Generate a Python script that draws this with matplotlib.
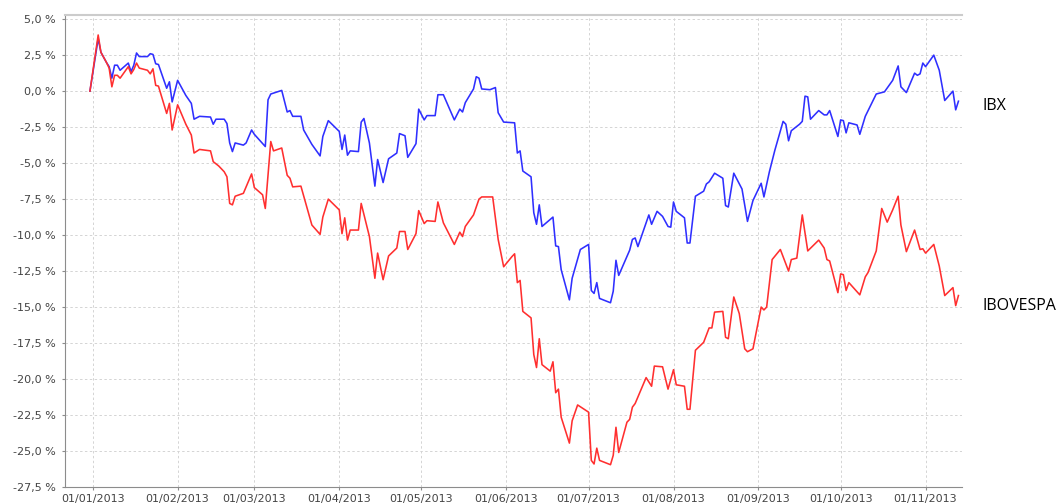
import matplotlib
matplotlib.use("Agg")
import matplotlib.pyplot as plt
import matplotlib.dates as mdates
import matplotlib.transforms as mtransforms
from matplotlib.ticker import FuncFormatter, MultipleLocator
import pandas as pd

# dias desde 01/01/2013 e variacao acumulada (%)
ibx_days = [-1, 2, 3, 5, 6, 7, 8, 9, 10, 13, 14, 15, 16, 17, 20, 21, 22, 23, 24, 27, 28, 29, 31,
            34, 36, 37, 39, 43, 44, 45, 48, 49, 50, 51, 52, 55, 56, 58, 59, 63, 64, 65, 69, 71,
            72, 73, 76, 77, 80, 83, 84, 86, 90, 91, 92, 93, 94, 97, 98, 99, 101, 103, 104, 106,
            108, 111, 112, 114, 115, 118, 119, 121, 122, 125, 126, 128, 132, 134, 135, 136, 139,
            140, 141, 142, 145, 147, 148, 150, 154, 155, 156, 157, 160, 161, 162, 163, 164, 168,
            169, 170, 171, 174, 175, 178, 181, 182, 183, 184, 185, 189, 190, 191, 192, 196, 197,
            198, 199, 203, 204, 206, 208, 210, 211, 212, 213, 216, 217, 218, 220, 223, 224, 225,
            227, 230, 231, 232, 234, 237, 239, 241, 244, 245, 247, 249, 252, 253, 254, 255, 258,
            259, 260, 261, 262, 265, 267, 268, 269, 272, 273, 274, 275, 276, 279, 280, 282, 286,
            289, 292, 294, 295, 297, 300, 301, 302, 303, 304, 307, 309, 311, 314, 315, 316]
ibx_vals = [0.0, 3.65, 2.7, 2.0, 1.7, 0.9, 1.8, 1.8, 1.45, 1.95, 1.35, 1.8, 2.65, 2.4, 2.4, 2.6,
            2.55, 1.9, 1.85, 0.2, 0.65, -0.75, 0.75, -0.3, -0.85, -1.95, -1.75, -1.8, -2.3, -1.95,
            -1.95, -2.25, -3.6, -4.2, -3.6, -3.75, -3.6, -2.7, -3.0, -3.85, -0.6, -0.2, 0.05,
            -1.45, -1.35, -1.75, -1.75, -2.7, -3.7, -4.5, -3.15, -2.05, -2.8, -4.05, -3.05, -4.45,
            -4.15, -4.2, -2.15, -1.9, -3.6, -6.6, -4.75, -6.35, -4.7, -4.3, -2.95, -3.1, -4.6,
            -3.65, -1.25, -2.0, -1.7, -1.7, -0.25, -0.25, -2.0, -1.25, -1.45, -0.8, 0.15, 1.0,
            0.9, 0.15, 0.1, 0.25, -1.5, -2.15, -2.2, -4.3, -4.15, -5.55, -5.95, -8.45, -9.25,
            -7.9, -9.4, -8.75, -10.75, -10.8, -12.4, -14.5, -13.0, -11.0, -10.65, -13.85, -14.05,
            -13.3, -14.4, -14.7, -13.9, -11.75, -12.8, -11.05, -10.3, -10.2, -10.8, -8.6, -9.25,
            -8.35, -8.7, -9.4, -9.45, -7.7, -8.35, -8.8, -10.55, -10.55, -7.3, -6.95, -6.45,
            -6.3, -5.7, -6.05, -7.95, -8.05, -5.7, -6.8, -9.05, -7.6, -6.4, -7.35, -5.6, -4.1,
            -2.1, -2.3, -3.45, -2.75, -2.3, -2.1, -0.35, -0.4, -1.95, -1.35, -1.65, -1.65, -1.35,
            -3.15, -2.0, -2.05, -2.9, -2.2, -2.35, -3.0, -1.75, -0.2, -0.05, 0.75, 1.75, 0.3,
            -0.1, 1.25, 1.1, 1.2, 1.95, 1.7, 2.5, 1.45, -0.65, 0.0, -1.3, -0.7]

ibov_days = [-1, 2, 3, 5, 6, 7, 8, 9, 10, 13, 14, 15, 16, 17, 20, 21, 22, 23, 24, 27, 28, 29, 31,
             34, 36, 37, 39, 43, 44, 46, 48, 49, 50, 51, 52, 55, 58, 59, 62, 63, 65, 66, 69, 71,
             72, 73, 76, 80, 83, 84, 86, 90, 91, 92, 93, 94, 97, 98, 101, 103, 104, 106, 108, 111,
             112, 114, 115, 118, 119, 121, 122, 125, 126, 128, 132, 134, 135, 136, 139, 141, 142,
             146, 148, 150, 153, 154, 155, 156, 157, 160, 161, 162, 163, 164, 167, 168, 169, 170,
             171, 174, 175, 177, 181, 182, 183, 184, 185, 189, 190, 191, 192, 195, 196, 197, 198,
             202, 204, 205, 208, 210, 212, 213, 216, 217, 218, 220, 223, 225, 226, 227, 230, 231,
             232, 234, 236, 238, 239, 241, 244, 245, 246, 248, 251, 254, 255, 257, 259, 261, 265,
             267, 268, 269, 272, 273, 274, 275, 276, 280, 282, 283, 286, 288, 290, 292, 294, 295,
             297, 300, 302, 303, 304, 307, 309, 311, 314, 315, 316]
ibov_vals = [0.0, 3.9, 2.7, 2.0, 1.6, 0.3, 1.1, 1.1, 0.9, 1.7, 1.2, 1.5, 1.95, 1.6, 1.45, 1.2,
             1.55, 0.4, 0.35, -1.55, -0.85, -2.7, -0.95, -2.3, -3.05, -4.3, -4.05, -4.15, -4.9,
             -5.2, -5.6, -5.95, -7.8, -7.9, -7.3, -7.1, -5.75, -6.7, -7.2, -8.15, -3.5, -4.15,
             -3.95, -5.85, -6.05, -6.65, -6.6, -9.3, -9.95, -8.75, -7.5, -8.25, -9.9, -8.8, -10.35,
             -9.65, -9.65, -7.8, -10.1, -13.0, -11.25, -13.1, -11.45, -10.9, -9.75, -9.75, -11.0,
             -9.9, -8.3, -9.2, -9.0, -9.05, -7.7, -9.15, -10.65, -9.8, -10.1, -9.4, -8.6, -7.5,
             -7.35, -7.35, -10.3, -12.2, -11.5, -11.3, -13.3, -13.15, -15.3, -15.75, -18.3, -19.2,
             -17.2, -19.0, -19.45, -18.8, -20.95, -20.7, -22.65, -24.45, -22.9, -21.8, -22.3,
             -25.65, -25.9, -24.8, -25.65, -25.95, -25.3, -23.35, -25.1, -23.0, -22.8, -21.95,
             -21.7, -19.9, -20.5, -19.1, -19.15, -20.7, -19.35, -20.4, -20.5, -22.1, -22.1, -18.0,
             -17.45, -16.45, -16.45, -15.35, -15.3, -17.1, -17.2, -14.3, -15.45, -17.9, -18.1,
             -17.9, -15.0, -15.2, -15.0, -11.7, -11.0, -12.5, -11.7, -11.6, -8.6, -11.1, -10.35,
             -10.9, -11.7, -11.8, -14.0, -12.7, -12.75, -13.85, -13.3, -14.15, -12.9, -12.6, -11.1,
             -8.15, -9.1, -8.25, -7.3, -9.3, -11.15, -9.65, -11.0, -10.95, -11.25, -10.65, -12.15,
             -14.2, -13.65, -14.9, -14.2]

series_names = ['IBX', 'IBOVESPA']
series_colors = ['#2f2fff', '#ff2f2f']

base = pd.Timestamp('2013-01-01')
ibx_dates = base + pd.to_timedelta(ibx_days, unit='D')
ibov_dates = base + pd.to_timedelta(ibov_days, unit='D')

fig = plt.figure(figsize=(10.59, 5.04), dpi=100)
ax = fig.add_axes([0.0614, 0.0337, 0.847, 0.9363])

ax.plot(ibx_dates, ibx_vals, color=series_colors[0], lw=1.15)
ax.plot(ibov_dates, ibov_vals, color=series_colors[1], lw=1.15)

ax.set_xlim(base - pd.Timedelta(days=10.1), base + pd.Timedelta(days=317.3))
ax.set_ylim(-27.5, 5.28)

ax.xaxis.set_major_locator(mdates.MonthLocator())
ax.xaxis.set_major_formatter(mdates.DateFormatter('%d/%m/%Y'))
ax.yaxis.set_major_locator(MultipleLocator(2.5))
ax.yaxis.set_major_formatter(FuncFormatter(lambda v, p: ('%.1f %%' % v).replace('.', ',')))

ax.grid(True, color='#d4d4d4', linestyle=(0, (2.5, 2.5)), linewidth=0.7)
ax.set_axisbelow(True)

ax.spines['right'].set_visible(False)
ax.spines['top'].set_color('#cccccc')
ax.spines['top'].set_linewidth(1.5)
ax.spines['left'].set_color('#8c8c8c')
ax.spines['bottom'].set_color('#8c8c8c')

ax.tick_params(axis='both', labelsize=8, labelcolor='#444444', color='#8c8c8c',
               length=2.5, width=0.8)
ax.tick_params(axis='y', pad=4)
ax.tick_params(axis='x', pad=2.5)

# nomes das series a direita
trans = mtransforms.blended_transform_factory(ax.transAxes, ax.transData)
ax.text(1.0234, ibx_vals[-1] - 0.3, series_names[0], transform=trans, fontsize=11.5,
        family='Open Sans', va='center', ha='left', color='black')
ax.text(1.0234, ibov_vals[-1] - 0.75, series_names[1], transform=trans, fontsize=11.5,
        family='Open Sans', va='center', ha='left', color='black')

fig.savefig('out.png', dpi=100)
